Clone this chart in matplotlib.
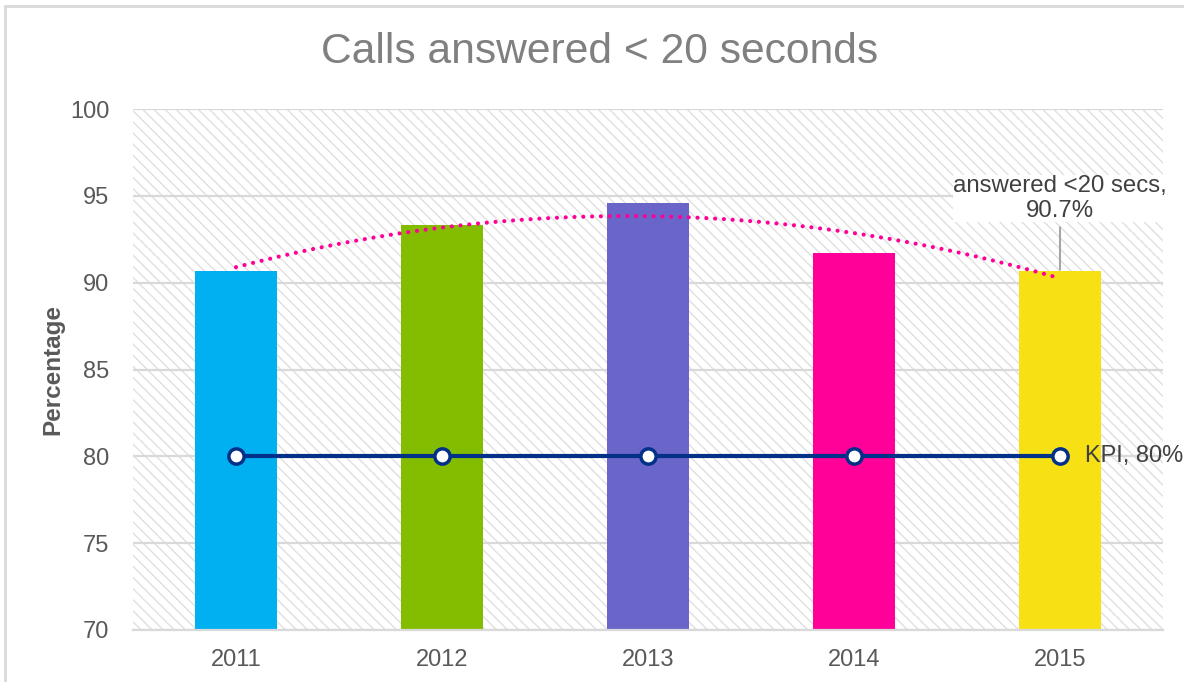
import numpy as np
import matplotlib
matplotlib.use("Agg")
import matplotlib.pyplot as plt
from matplotlib.patches import Rectangle

plt.rcParams['font.family'] = ['Liberation Sans', 'DejaVu Sans']
plt.rcParams['hatch.linewidth'] = 1.0

# ---- data ----
years = ["2011", "2012", "2013", "2014", "2015"]
answered = [90.7, 93.3, 94.6, 91.7, 90.7]
kpi = [80, 80, 80, 80, 80]
bar_colors = ["#00B0F0", "#84BD00", "#6A65C8", "#FF0099", "#F7E114"]
yticks = [70, 75, 80, 85, 90, 95, 100]
title = "Calls answered < 20 seconds"

fig = plt.figure(figsize=(11.84, 6.82), dpi=100)
ax = fig.add_axes([133/1184, 1-630/682, 1030/1184, 521/682])

# figure border (cropped at right/bottom)
fig.patches.append(Rectangle((5/1184, -0.2), 2, 1.2 - 6/682, transform=fig.transFigure,
                             fill=False, edgecolor="#d9d9d9", linewidth=2))

x = np.arange(len(years))
ax.set_xlim(-0.5, len(years) - 0.5)
ax.set_ylim(70, 100)

# hatched plot background
ax.add_patch(Rectangle((0, 0), 1, 1, transform=ax.transAxes, facecolor="white",
                       edgecolor="#e0e0e0", hatch="\\\\\\", linewidth=0, zorder=0))

for yv in yticks:
    ax.axhline(yv, color="#d9d9d9", lw=1.6, zorder=1)

ax.bar(x, answered, width=0.40, color=bar_colors, zorder=2, bottom=0)

# polynomial (order 2) trendline
coef = np.polyfit(x, answered, 2)
xs = np.linspace(0, len(years) - 1, 200)
ax.plot(xs, np.polyval(coef, xs), color="#FF0096", lw=3.0,
        linestyle=(0, (0.01, 2.1)), dash_capstyle="round", zorder=3)

# KPI line
ax.plot(x, kpi, color="#003087", lw=3, marker="o", markersize=11,
        markerfacecolor="white", markeredgecolor="#003087", markeredgewidth=2.5, zorder=4)

# labels
ax.text(x[-1] + 0.12, kpi[-1], f"KPI, {kpi[-1]}%", fontsize=17, color="#404040",
        va="center", ha="left", zorder=5, clip_on=False)
ax.annotate(f"answered <20 secs,\n{answered[-1]}%", xy=(x[-1], answered[-1] + 0.05),
            xytext=(x[-1], 94.85), textcoords="data", fontsize=17.3, color="#404040",
            ha="center", va="center", linespacing=1.15, zorder=6,
            bbox=dict(boxstyle="square,pad=0.0", facecolor="white", edgecolor="none"),
            arrowprops=dict(arrowstyle="-", color="#a6a6a6", lw=1.5, shrinkA=4, shrinkB=0))

ax.set_yticks(yticks)
ax.set_xticks(x)
ax.set_xticklabels(years)
ax.tick_params(axis="both", length=0, labelsize=17, labelcolor="#595959")
ax.tick_params(axis="y", pad=17)
ax.tick_params(axis="x", pad=14)
for s in ["left", "right", "top"]:
    ax.spines[s].set_visible(False)
ax.spines["bottom"].set_color("#d9d9d9")
ax.spines["bottom"].set_linewidth(1.6)

ax.set_ylabel("Percentage", fontsize=17.5, fontweight="bold", color="#595959", labelpad=4)
fig.text(0.506, 0.924, title, fontsize=30.7, color="#808080", ha="center", va="center")

fig.savefig("out.png", dpi=100)
